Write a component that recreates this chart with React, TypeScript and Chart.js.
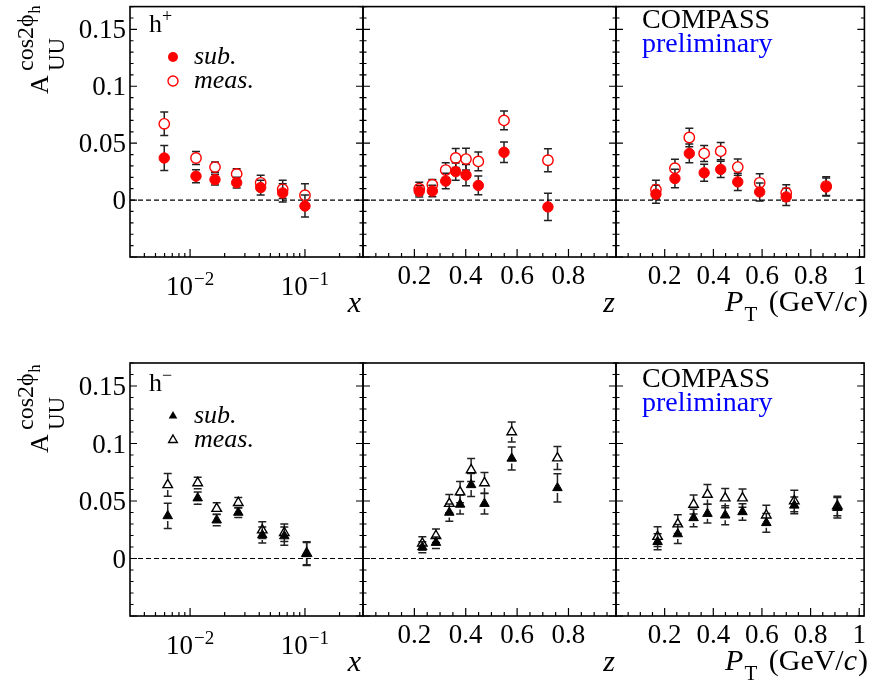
import React, { useEffect, useRef } from 'react';
import { Chart, registerables } from 'chart.js';

Chart.register(...registerables);

// ---------- axis definitions ----------
const Y_RANGE = [-0.05, 0.17];
const Y_MAJOR = [0, 0.05, 0.1, 0.15];
const Y_TICK_LABELS = ['0', '0.05', '0.1', '0.15'];
const X_RANGE = [0.003, 0.32];
const X_MAJOR = [0.01, 0.1];
const X_TICK_EXPONENTS = ['\u22122', '\u22121'];
const Z_RANGE = [0, 0.985];
const Z_MAJOR = [0.2, 0.4, 0.6, 0.8];
const Z_TICK_LABELS = ['0.2', '0.4', '0.6', '0.8'];
const PT_RANGE = [0, 1.02];
const PT_MAJOR = [0.2, 0.4, 0.6, 0.8, 1.0];
const PT_TICK_LABELS = ['0.2', '0.4', '0.6', '0.8', '1'];

// ---------- h+ vs x ----------
const hpX = [0.00596, 0.01126, 0.01648, 0.02544, 0.04116, 0.064, 0.1];
const hpXSub = [0.037, 0.021, 0.018, 0.0153, 0.011, 0.0063, -0.0052];
const hpXSubErr = [0.011, 0.0057, 0.0047, 0.0047, 0.0065, 0.008, 0.0097];
const hpXMeas = [0.067, 0.037, 0.029, 0.023, 0.0152, 0.0095, 0.0043];
const hpXMeasErr = [0.0103, 0.0057, 0.0045, 0.0046, 0.0067, 0.008, 0.01];

// ---------- h+ vs z ----------
const hpZ = [0.219, 0.27, 0.322, 0.361, 0.401, 0.449, 0.549, 0.72];
const hpZSub = [0.0078, 0.008, 0.0167, 0.025, 0.022, 0.0129, 0.042, -0.006];
const hpZSubErr = [0.005, 0.005, 0.0068, 0.0076, 0.0093, 0.0083, 0.009, 0.012];
const hpZMeas = [0.01, 0.0135, 0.0264, 0.037, 0.036, 0.034, 0.07, 0.035];
const hpZMeasErr = [0.0057, 0.0045, 0.0065, 0.0083, 0.0095, 0.0082, 0.0083, 0.0102];

// ---------- h+ vs PT ----------
const hpPt = [0.164, 0.242, 0.301, 0.362, 0.43, 0.5, 0.59, 0.699, 0.863];
const hpPtSub = [0.0052, 0.019, 0.041, 0.024, 0.027, 0.016, 0.0072, 0.0028, 0.0115];
const hpPtSubErr = [0.0079, 0.0082, 0.0083, 0.0075, 0.0072, 0.0075, 0.0079, 0.0076, 0.008];
const hpPtMeas = [0.0092, 0.028, 0.055, 0.041, 0.043, 0.029, 0.0152, 0.0063, 0.0123];
const hpPtMeasErr = [0.0082, 0.0079, 0.0082, 0.007, 0.0075, 0.0072, 0.0079, 0.0072, 0.0083];

// ---------- h- vs x ----------
const hmX = [0.00639, 0.01165, 0.01705, 0.02629, 0.04251, 0.0661, 0.1035];
const hmXSub = [0.037, 0.0525, 0.0333, 0.04, 0.0204, 0.0195, 0.004];
const hmXSubErr = [0.011, 0.0053, 0.0049, 0.0044, 0.0069, 0.0079, 0.01];
const hmXMeas = [0.064, 0.0657, 0.0434, 0.0485, 0.0247, 0.0224, 0.0046];
const hmXMeasErr = [0.0099, 0.005, 0.005, 0.0046, 0.0072, 0.0076, 0.01];

// ---------- h- vs z ----------
const hmZ = [0.231, 0.284, 0.336, 0.378, 0.421, 0.473, 0.579, 0.757];
const hmZSub = [0.0098, 0.0138, 0.04, 0.047, 0.064, 0.0477, 0.087, 0.0614];
const hmZSubErr = [0.0047, 0.005, 0.0075, 0.0082, 0.01, 0.0089, 0.01, 0.0122];
const hmZMeas = [0.0132, 0.0198, 0.0477, 0.0577, 0.077, 0.0657, 0.11, 0.0873];
const hmZMeasErr = [0.0057, 0.0059, 0.008, 0.0092, 0.01, 0.009, 0.0087, 0.01];

// ---------- h- vs PT ----------
const hmPt = [0.171, 0.254, 0.319, 0.376, 0.449, 0.52, 0.618, 0.733, 0.91];
const hmPtSub = [0.0146, 0.0213, 0.0353, 0.039, 0.0376, 0.0405, 0.031, 0.0462, 0.0442];
const hmPtSubErr = [0.0069, 0.0083, 0.0076, 0.0082, 0.0082, 0.0072, 0.0082, 0.0072, 0.0089];
const hmPtMeas = [0.019, 0.0299, 0.047, 0.0557, 0.0525, 0.0525, 0.0376, 0.05, 0.0456];
const hmPtMeasErr = [0.0086, 0.0082, 0.0083, 0.0086, 0.0083, 0.0079, 0.0086, 0.0093, 0.0085];

// ---------- layout ----------
const W = 871;
const H = 684;
const COLS = [130, 363, 616, 869];
const ROWS = [[3, 257], [363, 616]];
const ROW_SHIFT = [0, 359];
const FONT = '"Liberation Serif", "Times New Roman", serif';
const RED = '#ff0000';
const ERR_COLOR = '#222222';

type Run = { t: string; font: string; dy?: number; dx?: number };

function runsWidth(ctx: CanvasRenderingContext2D, runs: Run[], sx: number) {
  let w = 0;
  for (const r of runs) {
    ctx.font = r.font;
    w += ctx.measureText(r.t).width * sx + (r.dx || 0);
  }
  return w;
}

function drawRuns(
  ctx: CanvasRenderingContext2D,
  runs: Run[],
  x: number,
  y: number,
  align: 'left' | 'center' | 'right',
  sx = 1,
  color = '#000'
) {
  ctx.save();
  const w = runsWidth(ctx, runs, sx);
  let cx = align === 'left' ? x : align === 'center' ? x - w / 2 : x - w;
  ctx.fillStyle = color;
  ctx.textAlign = 'left';
  ctx.textBaseline = 'alphabetic';
  for (const r of runs) {
    ctx.font = r.font;
    const rw = ctx.measureText(r.t).width * sx;
    ctx.save();
    ctx.translate(cx, y + (r.dy || 0));
    ctx.scale(sx, 1);
    ctx.fillText(r.t, 0, 0);
    ctx.restore();
    cx += rw + (r.dx || 0);
  }
  ctx.restore();
}

type Panel = {
  row: number;
  col: number;
  kind: 'x' | 'z' | 'pt';
  xs: number[];
  sub: number[];
  subErr: number[];
  meas: number[];
  measErr: number[];
  hadron: 'plus' | 'minus';
};

const PANELS: Panel[] = [
  { row: 0, col: 0, kind: 'x', xs: hpX, sub: hpXSub, subErr: hpXSubErr, meas: hpXMeas, measErr: hpXMeasErr, hadron: 'plus' },
  { row: 0, col: 1, kind: 'z', xs: hpZ, sub: hpZSub, subErr: hpZSubErr, meas: hpZMeas, measErr: hpZMeasErr, hadron: 'plus' },
  { row: 0, col: 2, kind: 'pt', xs: hpPt, sub: hpPtSub, subErr: hpPtSubErr, meas: hpPtMeas, measErr: hpPtMeasErr, hadron: 'plus' },
  { row: 1, col: 0, kind: 'x', xs: hmX, sub: hmXSub, subErr: hmXSubErr, meas: hmXMeas, measErr: hmXMeasErr, hadron: 'minus' },
  { row: 1, col: 1, kind: 'z', xs: hmZ, sub: hmZSub, subErr: hmZSubErr, meas: hmZMeas, measErr: hmZMeasErr, hadron: 'minus' },
  { row: 1, col: 2, kind: 'pt', xs: hmPt, sub: hmPtSub, subErr: hmPtSubErr, meas: hmPtMeas, measErr: hmPtMeasErr, hadron: 'minus' },
];

function rangeOf(kind: Panel['kind']) {
  return kind === 'x' ? X_RANGE : kind === 'z' ? Z_RANGE : PT_RANGE;
}

function drawMarker(ctx: CanvasRenderingContext2D, style: 'circle' | 'triangle', x: number, y: number, r: number, filled: boolean, color: string) {
  ctx.save();
  ctx.beginPath();
  if (style === 'circle') {
    ctx.arc(x, y, r, 0, Math.PI * 2);
  } else {
    ctx.moveTo(x, y - r);
    ctx.lineTo(x + r * 0.866, y + r * 0.5);
    ctx.lineTo(x - r * 0.866, y + r * 0.5);
    ctx.closePath();
  }
  if (filled) {
    ctx.fillStyle = color;
    ctx.fill();
  } else {
    ctx.strokeStyle = color;
    ctx.lineWidth = 1.4;
    ctx.stroke();
  }
  ctx.restore();
}

function makeDecor(p: Panel) {
  return {
    id: 'decor',
    beforeDatasetsDraw(chart: any) {
      const ctx: CanvasRenderingContext2D = chart.ctx;
      const ys = chart.scales.y;
      ctx.save();
      ctx.strokeStyle = ERR_COLOR;
      ctx.lineWidth = 1.5;
      [0, 1].forEach((di) => {
        const meta = chart.getDatasetMeta(di);
        const vals = di === 0 ? p.sub : p.meas;
        const errs = di === 0 ? p.subErr : p.measErr;
        const gap = 5;
        meta.data.forEach((el: any, i: number) => {
          const px = el.x;
          const py = el.y;
          const top = ys.getPixelForValue(vals[i] + errs[i]);
          const bot = ys.getPixelForValue(vals[i] - errs[i]);
          ctx.beginPath();
          if (py - top > gap) {
            ctx.moveTo(px, py - gap);
            ctx.lineTo(px, top);
          }
          if (bot - py > gap) {
            ctx.moveTo(px, py + gap);
            ctx.lineTo(px, bot);
          }
          ctx.moveTo(px - 4, top);
          ctx.lineTo(px + 4, top);
          ctx.moveTo(px - 4, bot);
          ctx.lineTo(px + 4, bot);
          ctx.stroke();
        });
      });
      ctx.restore();
    },
    afterDraw(chart: any) {
      const ctx: CanvasRenderingContext2D = chart.ctx;
      const xs = chart.scales.x;
      const ys = chart.scales.y;
      const { left, right, top, bottom } = chart.chartArea;
      const sh = ROW_SHIFT[p.row];
      ctx.save();
      // frame
      ctx.strokeStyle = '#000';
      ctx.lineWidth = 1.6;
      ctx.strokeRect(left, top, right - left, bottom - top);
      // y ticks both sides
      ctx.lineWidth = 1.2;
      ctx.beginPath();
      for (let k = -5; k <= 17; k++) {
        const v = k / 100;
        const py = ys.getPixelForValue(v);
        const len = k % 5 === 0 ? 7 : 3.5;
        ctx.moveTo(left, py);
        ctx.lineTo(left + len, py);
        ctx.moveTo(right, py);
        ctx.lineTo(right - len, py);
      }
      // x ticks (bottom, inward)
      const [xmin, xmax] = rangeOf(p.kind);
      if (p.kind === 'x') {
        for (let e = -3; e <= -1; e++) {
          for (let k = 1; k <= 9; k++) {
            const v = k * Math.pow(10, e);
            if (v <= xmin || v >= xmax) continue;
            const px = xs.getPixelForValue(v);
            const len = k === 1 ? 8 : 4;
            ctx.moveTo(px, bottom);
            ctx.lineTo(px, bottom - len);
          }
        }
      } else {
        for (let k = 1; k * 0.05 < xmax; k++) {
          const px = xs.getPixelForValue(k * 0.05);
          const len = k % 4 === 0 ? 8 : 4;
          ctx.moveTo(px, bottom);
          ctx.lineTo(px, bottom - len);
        }
      }
      ctx.stroke();
      ctx.restore();

      const tickFont = `27px ${FONT}`;
      // x tick labels
      if (p.kind === 'x') {
        X_MAJOR.forEach((v, i) => {
          drawRuns(
            ctx,
            [
              { t: '10', font: tickFont, dx: 1 },
              { t: X_TICK_EXPONENTS[i], font: `19px ${FONT}`, dy: -10 },
            ],
            xs.getPixelForValue(v),
            295 + sh,
            'center'
          );
        });
      } else {
        const ticks = p.kind === 'z' ? Z_MAJOR : PT_MAJOR;
        const labels = p.kind === 'z' ? Z_TICK_LABELS : PT_TICK_LABELS;
        ticks.forEach((v, i) => {
          drawRuns(ctx, [{ t: labels[i], font: tickFont }], xs.getPixelForValue(v), 284 + sh, 'center');
        });
      }
      // axis titles
      const titleFont = `30px ${FONT}`;
      const titleIt = `italic 30px ${FONT}`;
      if (p.kind === 'x') {
        drawRuns(ctx, [{ t: 'x', font: titleIt }], 361, 312 + sh, 'right');
      } else if (p.kind === 'z') {
        drawRuns(ctx, [{ t: 'z', font: titleIt }], 615, 312 + sh, 'right');
      } else {
        drawRuns(
          ctx,
          [
            { t: 'P', font: titleIt, dx: 1 },
            { t: 'T', font: `21px ${FONT}`, dy: 10, dx: 4 },
            { t: ' (GeV/', font: titleFont },
            { t: 'c', font: titleIt, dx: 1 },
            { t: ')', font: titleFont },
          ],
          868,
          311 + sh,
          'right'
        );
        // COMPASS preliminary
        drawRuns(ctx, [{ t: 'COMPASS', font: `28px ${FONT}` }], 642, 28 + sh, 'left', 1, '#000');
        drawRuns(ctx, [{ t: 'preliminary', font: `28px ${FONT}` }], 642, 52 + sh, 'left', 1, '#0000ff');
      }

      if (p.kind === 'x') {
        // y tick labels
        Y_MAJOR.forEach((v, i) => {
          drawRuns(ctx, [{ t: Y_TICK_LABELS[i], font: tickFont }], 126, ys.getPixelForValue(v) + 9, 'right');
        });
        // y axis title (rotated)
        ctx.save();
        ctx.translate(48, 94 + sh);
        ctx.rotate(-Math.PI / 2);
        ctx.fillStyle = '#000';
        ctx.textBaseline = 'alphabetic';
        ctx.textAlign = 'left';
        ctx.font = `26px ${FONT}`;
        ctx.fillText('A', 0, 0);
        ctx.font = `23px ${FONT}`;
        ctx.fillText('UU', 23, 16);
        ctx.font = `24px ${FONT}`;
        ctx.fillText('cos2\u03d5', 23, -15);
        const cw = ctx.measureText('cos2\u03d5').width;
        ctx.font = `16px ${FONT}`;
        ctx.fillText('h', 23 + cw + 1, -8);
        ctx.restore();

        // legend
        const isPlus = p.hadron === 'plus';
        drawRuns(
          ctx,
          [
            { t: 'h', font: `26px ${FONT}` },
            { t: isPlus ? '+' : '\u2212', font: `18px ${FONT}`, dy: -10 },
          ],
          149,
          32 + sh,
          'left'
        );
        const style = isPlus ? 'circle' : 'triangle';
        const color = isPlus ? RED : '#000';
        drawMarker(ctx, style, 173, 57 + sh, 5, true, color);
        drawMarker(ctx, style, 173, 81 + sh, 5, false, color);
        drawRuns(ctx, [{ t: 'sub.', font: `italic 26px ${FONT}` }], 194, 64 + sh, 'left');
        drawRuns(ctx, [{ t: 'meas.', font: `italic 26px ${FONT}` }], 194, 88 + sh, 'left');
      }
    },
  };
}

function makeConfig(p: Panel): any {
  const [xmin, xmax] = rangeOf(p.kind);
  const isPlus = p.hadron === 'plus';
  const color = isPlus ? RED : '#000';
  const style = isPlus ? 'circle' : 'triangle';
  const [top, bottom] = ROWS[p.row];
  return {
    type: 'scatter',
    data: {
      datasets: [
        {
          label: 'sub.',
          data: p.xs.map((x, i) => ({ x, y: p.sub[i] })),
          pointStyle: style,
          pointRadius: isPlus ? 5.2 : 5.5,
          pointBackgroundColor: color,
          pointBorderColor: color,
          pointBorderWidth: 1,
          showLine: false,
        },
        {
          label: 'meas.',
          data: p.xs.map((x, i) => ({ x, y: p.meas[i] })),
          pointStyle: style,
          pointRadius: isPlus ? 5.2 : 5.5,
          pointBackgroundColor: 'rgba(0,0,0,0)',
          pointBorderColor: color,
          pointBorderWidth: 1.4,
          showLine: false,
        },
        {
          type: 'line',
          label: 'zero',
          data: [
            { x: xmin, y: 0 },
            { x: xmax, y: 0 },
          ],
          borderColor: '#000',
          borderWidth: 1.2,
          borderDash: [5, 3],
          pointRadius: 0,
          showLine: true,
          fill: false,
        },
      ],
    },
    options: {
      responsive: false,
      animation: false,
      events: [],
      layout: {
        padding: {
          left: COLS[p.col],
          right: W - COLS[p.col + 1],
          top,
          bottom: H - bottom,
        },
      },
      scales: {
        x: { type: p.kind === 'x' ? 'logarithmic' : 'linear', min: xmin, max: xmax, display: false },
        y: { type: 'linear', min: Y_RANGE[0], max: Y_RANGE[1], display: false },
      },
      plugins: {
        legend: { display: false },
        tooltip: { enabled: false },
      },
    },
    plugins: [makeDecor(p)],
  };
}

function PanelCanvas({ p }: { p: Panel }) {
  const ref = useRef<HTMLCanvasElement | null>(null);
  useEffect(() => {
    if (!ref.current) return;
    const chart = new Chart(ref.current, makeConfig(p));
    return () => chart.destroy();
  }, [p]);
  return (
    <canvas
      ref={ref}
      width={W}
      height={H}
      style={{ position: 'absolute', left: 0, top: 0, width: W, height: H }}
    />
  );
}

export default function App() {
  return (
    <div style={{ position: 'fixed', left: 0, top: 0, width: W, height: H, background: '#fff', overflow: 'hidden' }}>
      {PANELS.map((p, i) => (
        <PanelCanvas key={i} p={p} />
      ))}
    </div>
  );
}
